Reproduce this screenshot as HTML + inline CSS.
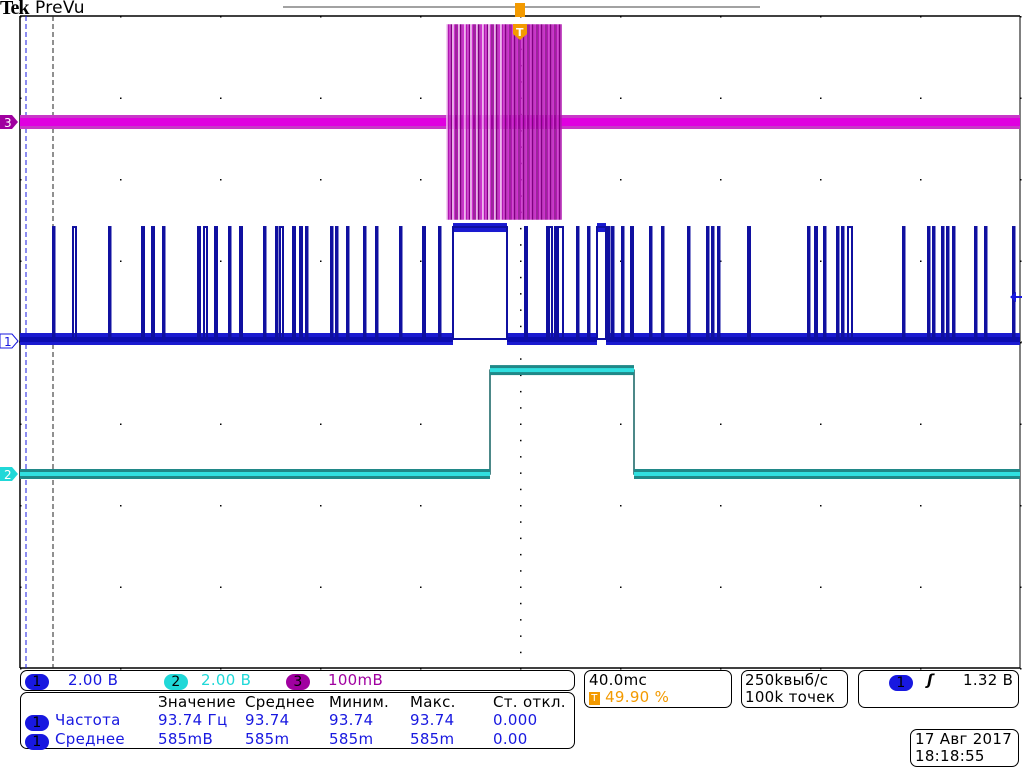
<!DOCTYPE html>
<html><head><meta charset="utf-8"><style>
body{margin:0;background:#fff;width:1024px;height:768px;overflow:hidden;font-family:"DejaVu Sans","Liberation Sans",sans-serif;}
svg{position:absolute;left:0;top:0}
.box{position:absolute;border:1px solid #000;border-radius:7px;box-sizing:border-box;font-size:15px;}
.t{position:absolute;white-space:nowrap;letter-spacing:0.3px}
.pill{display:inline-block;width:24px;height:16px;border-radius:8px;text-align:center;line-height:16px;color:#000;font-size:14px}
</style></head><body>
<svg id="scope" width="1024" height="768"></svg>
<div class="t" style="left:0;top:-3px;font-family:'Liberation Serif',serif;font-weight:bold;font-size:20px;letter-spacing:-1px">Tek</div>
<div class="t" style="left:35px;top:-2px;font-size:17px">PreVu</div>

<div class="box" style="left:20px;top:670px;width:555px;height:21px">
 <span class="t" style="left:4px;top:1px"><span class="pill" style="background:#1818e0">1</span></span>
 <span class="t" style="left:47px;top:0px;color:#1818e0">2.00 В</span>
 <span class="t" style="left:143px;top:1px"><span class="pill" style="background:#20d8d8">2</span></span>
 <span class="t" style="left:180px;top:0px;color:#20d8d8">2.00 В</span>
 <span class="t" style="left:265px;top:1px"><span class="pill" style="background:#a000a0">3</span></span>
 <span class="t" style="left:307px;top:0px;color:#a000a0">100mВ</span>
</div>
<div class="box" style="left:20px;top:692px;width:555px;height:57px">
 <span class="t" style="left:137px;top:0px">Значение</span><span class="t" style="left:224px;top:0px">Среднее</span><span class="t" style="left:308px;top:0px">Миним.</span><span class="t" style="left:389px;top:0px">Макс.</span><span class="t" style="left:472px;top:0px">Ст. откл.</span>
 <span class="t" style="left:4px;top:20px"><span class="pill" style="background:#1818e0">1</span></span><span class="t" style="left:34px;top:18px;color:#1818e0">Частота</span>
 <span class="t" style="left:137px;top:18px;color:#1818e0">93.74 Гц</span><span class="t" style="left:224px;top:18px;color:#1818e0">93.74</span><span class="t" style="left:308px;top:18px;color:#1818e0">93.74</span><span class="t" style="left:389px;top:18px;color:#1818e0">93.74</span><span class="t" style="left:472px;top:18px;color:#1818e0">0.000</span>
 <span class="t" style="left:4px;top:39px"><span class="pill" style="background:#1818e0">1</span></span><span class="t" style="left:34px;top:37px;color:#1818e0">Среднее</span>
 <span class="t" style="left:137px;top:37px;color:#1818e0">585mВ</span><span class="t" style="left:224px;top:37px;color:#1818e0">585m</span><span class="t" style="left:308px;top:37px;color:#1818e0">585m</span><span class="t" style="left:389px;top:37px;color:#1818e0">585m</span><span class="t" style="left:472px;top:37px;color:#1818e0">0.00</span>
</div>
<div class="box" style="left:584px;top:670px;width:148px;height:38px">
 <span class="t" style="left:4px;top:0px">40.0mс</span>
 <span class="t" style="left:4px;top:17px;color:#f39a00"><span style="display:inline-block;width:11px;height:13px;background:#f39a00;color:#fff;font-size:10px;text-align:center;line-height:13px;vertical-align:1px">T</span> 49.90 %</span>
</div>
<div class="box" style="left:741px;top:670px;width:107px;height:38px">
 <span class="t" style="left:3px;top:0px">250kвыб/с</span><span class="t" style="left:3px;top:17px">100k точек</span>
</div>
<div class="box" style="left:858px;top:670px;width:161px;height:38px">
 <span class="t" style="left:30px;top:2px"><span class="pill" style="background:#1818e0">1</span></span>
 <span class="t" style="left:68px;top:0px;font-style:italic;font-weight:bold">ʃ</span>
 <span class="t" style="left:104px;top:0px">1.32 В</span>
</div>
<div class="box" style="left:910px;top:729px;width:109px;height:38px">
 <span class="t" style="left:4px;top:0px">17 Авг 2017</span><span class="t" style="left:4px;top:17px">18:18:55</span>
</div>

<script>
// Time in divisions (0..10), 40 ms/div
const ch1PulseStart=[0.33,0.53,0.89,1.22,1.32,1.43,1.78,1.84,1.95,2.09,2.20,2.44,2.56,2.60,2.73,2.80,2.86,3.11,3.16,3.27,3.44,3.56,3.80,4.03,4.19,4.33,5.05,5.27,5.29,5.35,5.38,5.57,5.68,5.77,5.88,5.92,6.02,6.11,6.30,6.42,6.68,6.87,6.92,6.98,7.28,7.88,7.95,8.04,8.17,8.22,8.28,8.83,9.08,9.13,9.22,9.27,9.33,9.55,9.65,9.93];
const ch1PulseWidth=[0.01,0.03,0.01,0.02,0.02,0.01,0.02,0.03,0.02,0.01,0.02,0.01,0.01,0.03,0.02,0.02,0.01,0.01,0.01,0.01,0.01,0.01,0.01,0.02,0.01,0.54,0.02,0.01,0.03,0.01,0.05,0.01,0.01,0.09,0.01,0.01,0.01,0.02,0.01,0.01,0.01,0.01,0.01,0.01,0.02,0.01,0.02,0.01,0.01,0.01,0.04,0.01,0.01,0.01,0.01,0.01,0.01,0.01,0.01,0.01];
const ch1Levels=[0,4.58]; // volts: low, high
const ch2Edges=[4.70,6.14]; // rise, fall (div)
const ch2Levels=[0,4.25];
const ch3Burst=[4.27,5.42]; // start,end (div)
const ch3Amp=[3.0]; // divisions half-span of burst

const svg=document.getElementById('scope');const NS='http://www.w3.org/2000/svg';
function el(t,a,name){const e=document.createElementNS(NS,t);for(const k in a)e.setAttribute(k,a[k]);


svg.appendChild(e);return e;}
const L=20,R=1020,T=16,B=668,DX=100,DY=(B-T)/8;
const X=d=>L+d*DX;
const y1=v=>339-v/2*DY*0.6;
const y2=v=>474-v/2*DY*0.6;
const y3=d=>122-d*DY*0.4;
// frame
el('line',{x1:L,y1:T,x2:R,y2:T,stroke:'#000','stroke-width':1.5},'plot-top-border');
el('line',{x1:L,y1:T,x2:L,y2:B,stroke:'#000','stroke-width':1.5},'plot-left-border');
el('line',{x1:L,y1:B,x2:R,y2:B,stroke:'#000','stroke-width':1.5},'plot-bottom-border');
el('line',{x1:R,y1:T,x2:R,y2:B,stroke:'#000','stroke-width':1},'plot-right-border');
el('line',{x1:283,y1:7,x2:760,y2:7,stroke:'#444','stroke-width':1},'record-view-bar');
// graticule dots
for(let i=0;i<=10;i++)for(let j=0;j<=40;j++){const yy=T+j*DY/5;if(j%5==0||i==5)el('rect',{x:X(i),y:yy,width:1.5,height:1.5,fill:'#000'},'grid-dot');}
for(let j=0;j<=8;j++)for(let i=0;i<=50;i++){if(j==4||i%5==0)el('rect',{x:L+i*20,y:T+j*DY,width:1.5,height:1.5,fill:'#000'},'grid-dot');}
for(let i=0;i<=10;i++){el('line',{x1:X(i)-3,y1:T+4*DY,x2:X(i)+3,y2:T+4*DY,stroke:'#000','stroke-dasharray':'1,1'},'center-tick');}
el('line',{x1:26,y1:T,x2:26,y2:B,stroke:'#1818e0','stroke-dasharray':'5,3'},'cursor-line-a');
el('line',{x1:53,y1:T,x2:53,y2:B,stroke:'#222','stroke-dasharray':'5,3'},'cursor-line-b');
// ch3
el('rect',{x:L,y:y3(0)-7,width:R-L,height:14,fill:'#c838c8'},'ch3-noise-band');
el('rect',{x:L,y:y3(0)-4,width:R-L,height:8,fill:'#e000e0'},'ch3-trace');
const bx0=X(ch3Burst[0]),bx1=X(ch3Burst[1]);
for(let x=bx0;x<bx1;x+=1.5){const k=Math.floor((x-bx0)/1.5);const w=(x-bx0)<60&&k%4==0;
 el('line',{x1:x,y1:y3(ch3Amp[0]),x2:x,y2:y3(-ch3Amp[0]),stroke:w?'#f0c0f0':(k%3==0?'#800080':(k%3==1?'#b018b0':'#d030d0')),'stroke-width':1.5},'ch3-burst-line');}
// ch1
el('rect',{x:L,y:y1(ch1Levels[0])-6,width:R-L,height:12,fill:'#1a1ad0'},'ch1-noise-band');
el('rect',{x:L,y:y1(ch1Levels[0])-2,width:R-L,height:5,fill:'#0c0cb0'},'ch1-trace');
ch1PulseStart.forEach((s,i)=>{const x=X(s),w=Math.max(1.5,ch1PulseWidth[i]*DX);
 if(w>8){el('rect',{x:x,y:y1(ch1Levels[1]),width:w,height:y1(ch1Levels[0])-y1(ch1Levels[1])+6,fill:'#fff'},'ch1-pulse-gap');
  el('rect',{x:x,y:y1(ch1Levels[1])-4,width:w,height:9,fill:'#1a1ad0'},'ch1-pulse-high');
  el('line',{x1:x,y1:y1(ch1Levels[0]),x2:x+w,y2:y1(ch1Levels[0]),stroke:'#000','stroke-dasharray':'1,2'},'ch1-gap');}
 el('rect',{x:x,y:y1(ch1Levels[1]),width:w,height:y1(ch1Levels[0])-y1(ch1Levels[1]),fill:'none',stroke:'#1010a0','stroke-width':2},'ch1-pulse');});
// ch2
const r2=X(ch2Edges[0]),f2=X(ch2Edges[1]);
el('polyline',{points:`${L},${y2(ch2Levels[0])} ${r2},${y2(ch2Levels[0])} ${r2},${y2(ch2Levels[1])} ${f2},${y2(ch2Levels[1])} ${f2},${y2(ch2Levels[0])} ${R},${y2(ch2Levels[0])}`,fill:'none',stroke:'#106060','stroke-width':1.5},'ch2-edges');
[[L,r2],[r2,f2],[f2,R]].forEach((s,i)=>{const yy=i==1?y2(ch2Levels[1]):y2(ch2Levels[0]);
 el('rect',{x:s[0],y:yy-5,width:s[1]-s[0],height:10,fill:'#208888'},'ch2-noise-band');
 el('rect',{x:s[0],y:yy-2,width:s[1]-s[0],height:4,fill:'#30e0e0'},'ch2-trace');});
// markers
function marker(y,c,t,tc,name){el('path',{d:`M0,${y-7}H12L18,${y}L12,${y+7}H0Z`,fill:c},name);
 const tx=el('text',{x:4,y:y+5,fill:tc,'font-size':12,'font-family':'DejaVu Sans'},name+'-label');tx.textContent=t;}
marker(122,'#a000a0','3','#fff','ch3-marker');
marker(341,'#fff','1','#1818e0','ch1-marker');
el('path',{d:'M0,334H12L18,341L12,348H0Z',fill:'none',stroke:'#1818e0'},'ch1-marker-outline');
marker(474,'#20d8d8','2','#fff','ch2-marker');
el('path',{d:'M1010,297L1016,292V296H1022V298H1016V302Z',fill:'#1818e0'},'trigger-level-arrow');
el('path',{d:'M513,24H527V34L520,40L513,34Z',fill:'#f39a00'},'trigger-position-marker');
el('rect',{x:515,y:3,width:10,height:14,fill:'#f39a00'},'trigger-record-marker');
const tt=el('text',{x:516,y:36,fill:'#fff','font-size':11,'font-weight':'bold'},'trigger-t');tt.textContent='T';
</script>
</body></html>
